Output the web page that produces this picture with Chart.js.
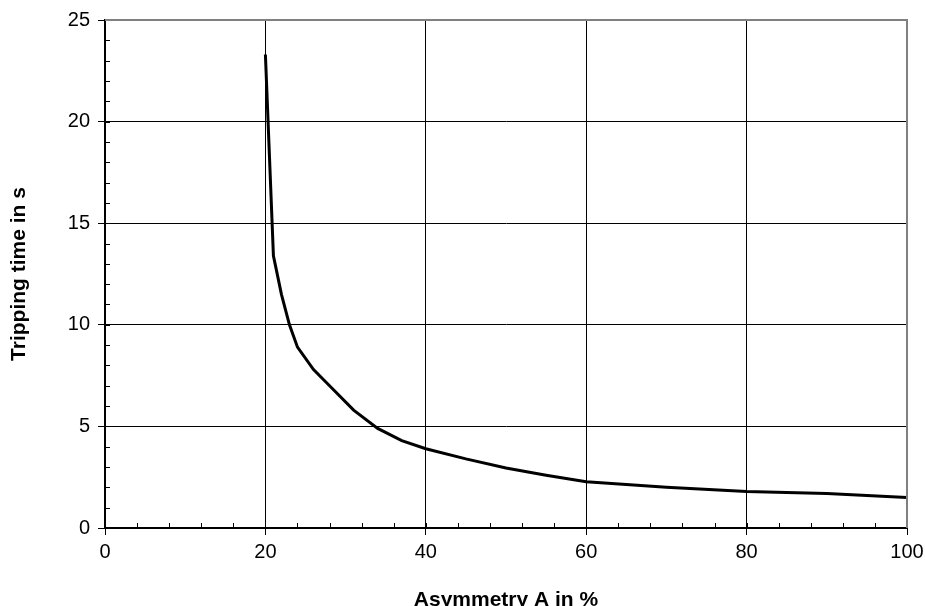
<!DOCTYPE html>
<html>
<head>
<meta charset="utf-8">
<script src="https://cdn.jsdelivr.net/npm/chart.js@4/dist/chart.umd.min.js"></script>
<style>
  html, body { margin: 0; padding: 0; background: #fff; overflow: hidden; }
  #wrap { width: 925px; height: 614px; }
</style>
</head>
<body>
<div id="wrap"><canvas id="tripChart" width="925" height="614"></canvas></div>
<script>
// Asymmetry A in % vs tripping time in s
let asymmetry = [20, 21, 22, 23, 24, 26, 28, 31, 34, 37, 40, 45, 50, 55, 60, 70, 80, 90, 100];
let tripTime  = [23.3, 13.4, 11.5, 10.0, 8.9, 7.8, 7.0, 5.8, 4.9, 4.3, 3.9, 3.4, 2.95, 2.6, 2.28, 2.0, 1.8, 1.7, 1.5];
let xTicks = [0, 20, 40, 60, 80, 100];
let yTicks = [0, 5, 10, 15, 20, 25];

let points = asymmetry.map((a, i) => ({ x: a, y: tripTime[i] }));

// small inner ticks + gray top/right frame
const minorTicks = {
    id: "minorTicks",
    afterDraw(chart) {
        let ctx = chart.ctx;
        let xs = chart.scales.x, ys = chart.scales.y;
        let area = chart.chartArea;
        ctx.save();
        ctx.strokeStyle = "#000";
        ctx.lineWidth = 1;
        ctx.beginPath();
        for (let v = 0; v <= 100; v += 4) {
            let px = Math.round(xs.getPixelForValue(v)) + 0.5;
            ctx.moveTo(px, area.bottom);
            ctx.lineTo(px, area.bottom - 5);
        }
        for (let v = 0; v <= 25; v += 1) {
            let py = Math.round(ys.getPixelForValue(v)) + 0.5;
            ctx.moveTo(area.left, py);
            ctx.lineTo(area.left + 5, py);
        }
        ctx.stroke();
        // frame
        ctx.strokeStyle = "#808080";
        ctx.lineWidth = 2;
        ctx.beginPath();
        ctx.moveTo(area.left, area.top);
        ctx.lineTo(area.right, area.top);
        ctx.lineTo(area.right, area.bottom);
        ctx.stroke();
        ctx.restore();
    }
};

function setupChart() {
    let ctx = document.getElementById("tripChart").getContext("2d");
    new Chart(ctx, {
        type: "line",
        data: {
            datasets: [{
                data: points,
                borderColor: "#000",
                borderWidth: 3,
                pointRadius: 0,
                tension: 0,
                fill: false
            }]
        },
        options: {
            responsive: false,
            animation: false,
            devicePixelRatio: 1,
            layout: { padding: { top: 20, right: 0, left: 0, bottom: 0 } },
            plugins: { legend: { display: false }, tooltip: { enabled: false } },
            scales: {
                x: {
                    type: "linear",
                    min: 0, max: 100,
                    afterFit: s => { s.height = 86; s.paddingRight = 18; },
                    afterBuildTicks: s => { s.ticks = xTicks.map(v => ({ value: v })); },
                    grid: { color: "#000", lineWidth: 1, tickLength: 7, tickColor: "#000" },
                    border: { color: "#000", width: 2 },
                    ticks: { color: "#000", font: { family: "Liberation Sans, Arial", size: 20 }, padding: 5, maxRotation: 0 },
                    title: {
                        display: true, text: "Asymmetry A in %", color: "#000",
                        font: { family: "Liberation Sans, Arial", size: 21, weight: "bold" },
                        padding: { top: 0, bottom: 1 }
                    }
                },
                y: {
                    min: 0, max: 25,
                    afterFit: s => { s.width = 105; },
                    afterBuildTicks: s => { s.ticks = yTicks.map(v => ({ value: v })); },
                    grid: { color: "#000", lineWidth: 1, tickLength: 7, tickColor: "#000" },
                    border: { color: "#000", width: 2 },
                    ticks: { color: "#000", font: { family: "Liberation Sans, Arial", size: 20 }, padding: 8 },
                    title: {
                        display: true, text: "Tripping time in s", color: "#000",
                        font: { family: "Liberation Sans, Arial", size: 21, weight: "bold" },
                        padding: { top: 7, bottom: 0 }
                    }
                }
            }
        },
        plugins: [minorTicks]
    });
}

setupChart();
</script>
</body>
</html>
